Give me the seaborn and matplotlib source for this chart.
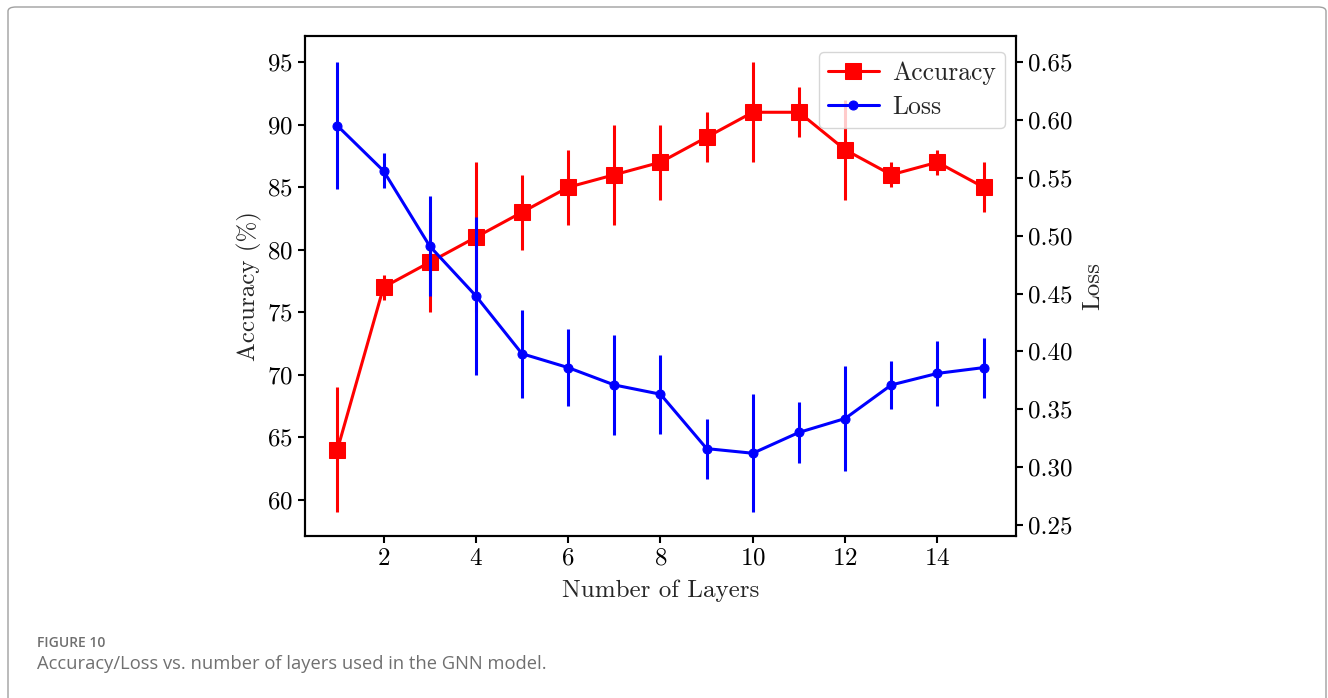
import matplotlib
matplotlib.use("Agg")
import matplotlib.pyplot as plt
import seaborn as sns
from matplotlib.patches import FancyBboxPatch

layers = [1, 2, 3, 4, 5, 6, 7, 8, 9, 10, 11, 12, 13, 14, 15]
accuracy = [64, 77, 79, 81, 83, 85, 86, 87, 89, 91, 91, 88, 86, 87, 85]
accuracy_err = [5, 1, 4, 6, 3, 3, 4, 3, 2, 4, 2, 4, 1, 1, 2]
loss = [0.595, 0.556, 0.491, 0.448, 0.398, 0.386, 0.371, 0.363, 0.316, 0.312,
        0.330, 0.342, 0.371, 0.381, 0.386]
loss_err = [0.055, 0.015, 0.043, 0.068, 0.038, 0.033, 0.043, 0.034, 0.026, 0.051,
            0.026, 0.045, 0.021, 0.028, 0.026]

sns.set_style("ticks")
plt.rcParams["font.family"] = ["cmr10", "DejaVu Serif"]
plt.rcParams["axes.formatter.use_mathtext"] = True
plt.rcParams["mathtext.fontset"] = "cm"
plt.rcParams["axes.edgecolor"] = "black"
plt.rcParams["xtick.color"] = "black"
plt.rcParams["ytick.color"] = "black"
plt.rcParams["axes.linewidth"] = 1.5

fs = 18

fig = plt.figure(figsize=(13.28, 6.98), dpi=100)
ax = fig.add_axes([0.2297, 0.2321, 0.5353, 0.7163])
ax2 = ax.twinx()

sns.lineplot(x=layers, y=accuracy, ax=ax, color="red", marker="s", markersize=12,
             markeredgecolor="red", linewidth=2.2, legend=False)
ax.errorbar(layers, accuracy, yerr=accuracy_err, fmt="none", ecolor="red",
            elinewidth=2.2, capsize=0)

sns.lineplot(x=layers, y=loss, ax=ax2, color="blue", marker="o", markersize=6.5,
             markeredgecolor="blue", linewidth=2.2, legend=False)
ax2.errorbar(layers, loss, yerr=loss_err, fmt="none", ecolor="blue",
             elinewidth=2.2, capsize=0)

ax.set_xlim(0.3, 15.7)
ax.set_ylim(57.1, 97.1)
ax2.set_ylim(0.2405, 0.6725)
ax.set_xticks([2, 4, 6, 8, 10, 12, 14])
ax.set_yticks([60, 65, 70, 75, 80, 85, 90, 95])
ax2.set_yticks([0.25, 0.30, 0.35, 0.40, 0.45, 0.50, 0.55, 0.60, 0.65])
ax2.set_yticklabels([f"{v:.2f}" for v in ax2.get_yticks()])

for a in (ax, ax2):
    a.tick_params(labelsize=fs, length=5, width=1.5, direction="out")
    for s in a.spines.values():
        s.set_visible(True)
        s.set_linewidth(1.5)
        s.set_color("black")

ax.set_xlabel("Number of Layers", fontsize=fs, labelpad=7)
ax.set_ylabel("Accuracy (%)", fontsize=fs)
ax2.set_ylabel("Loss", fontsize=fs, labelpad=7)

handles = [ax.get_lines()[0], ax2.get_lines()[0]]
ax2.legend(handles, ["Accuracy", "Loss"], loc="upper right",
           bbox_to_anchor=(0.9845, 0.968), fontsize=18.5,
           framealpha=0.8, fancybox=True, borderaxespad=0,
           handletextpad=0.5, labelspacing=0.4, borderpad=0.35)

# outer frame and caption
W, H = 1328, 698
frame = FancyBboxPatch((8 / W, -0.05), (1326 - 8) / W, (H - 7) / H + 0.05,
                       boxstyle="round,pad=0,rounding_size=0.006",
                       transform=fig.transFigure, fill=False,
                       edgecolor="#a0a0a0", linewidth=1.0, clip_on=False)
fig.patches.append(frame)
fig.text(37 / W, 1 - 643 / H, "FIGURE 10", fontsize=10, color="#6f6f6f",
         fontweight="semibold", family=["Open Sans", "DejaVu Sans"], va="center")
fig.text(37 / W, 1 - 664 / H, "Accuracy/Loss vs. number of layers used in the GNN model.",
         fontsize=13.2, color="#707070", family=["Open Sans", "DejaVu Sans"], va="center")

fig.savefig("out.png", dpi=100)
